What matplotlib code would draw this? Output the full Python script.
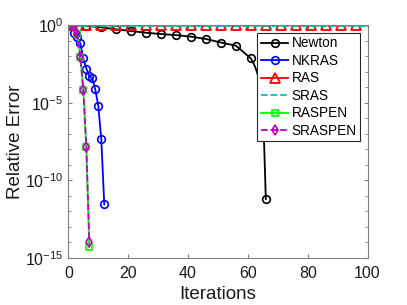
import numpy as np
import matplotlib
matplotlib.use("Agg")
import matplotlib.pyplot as plt
from matplotlib.ticker import FixedLocator, NullFormatter, LogFormatterSciNotation

plt.rcParams['font.family'] = ['Liberation Sans', 'DejaVu Sans']
plt.rcParams['mathtext.fontset'] = 'custom'
plt.rcParams['mathtext.rm'] = 'Liberation Sans'
plt.rcParams['mathtext.it'] = 'Liberation Sans'

# Data (log10 of relative error)
newton_it = [1, 6, 11, 16, 21, 26, 31, 36, 41, 46, 51, 56, 61, 62, 63, 64, 65, 66]
newton_log = [0.0, -0.05, -0.15, -0.28, -0.39, -0.5, -0.58, -0.65, -0.75, -0.9,
              -1.13, -1.33, -2.15, -2.5, -3.0, -3.7, -4.9, -11.2]
newton_marks = [0, 1, 2, 3, 4, 5, 6, 7, 8, 9, 10, 11, 12, 17]

nkras_it = [1, 2, 3, 4, 5, 6, 7, 8, 9, 10, 11, 12]
nkras_log = [0.0, -0.5, -0.8, -1.18, -2.15, -2.8, -3.3, -3.44, -4.15, -5.2, -7.35, -11.55]

ras_it = [1, 6, 11, 16, 21, 26, 31, 36, 41, 46, 51, 56, 61, 66, 71, 76, 81, 86, 91, 96, 100]
ras_log = [-0.02, -0.03, -0.03, -0.03, -0.03, -0.03, -0.03, -0.03, -0.03, -0.03, -0.03,
           -0.03, -0.03, -0.03, -0.03, -0.03, -0.03, -0.03, -0.03, -0.03, -0.03]

sras_it = [1, 100]
sras_log = [-0.06, -0.06]

raspen_it = [1, 2, 3, 4, 5, 6, 7]
raspen_log = [0.0, -0.05, -0.6, -2.05, -4.2, -7.85, -14.3]

sraspen_it = [1, 2, 3, 4, 5, 6, 7]
sraspen_log = [0.0, -0.05, -0.58, -2.05, -4.2, -7.85, -14.0]

fig = plt.figure(figsize=(4.07, 3.05), dpi=100)
ax = fig.add_axes([0.168, 0.154, 0.735, 0.764])

lw = 1.3
ms = 5.5
ax.semilogy(newton_it, 10.0 ** np.array(newton_log), '-o', color='k', lw=lw, ms=ms,
            mfc='none', mew=1.2, markevery=newton_marks, label='Newton')
ax.semilogy(nkras_it, 10.0 ** np.array(nkras_log), '-o', color='b', lw=lw, ms=ms,
            mfc='none', mew=1.2, label='NKRAS')
ax.semilogy(ras_it, 10.0 ** np.array(ras_log), '-^', color='r', lw=lw, ms=6.5,
            mfc='none', mew=1.3, markevery=list(range(len(ras_it) - 1)), label='RAS')
ax.semilogy(sras_it, 10.0 ** np.array(sras_log), '--', color='c', lw=lw, label='SRAS')
ax.semilogy(raspen_it, 10.0 ** np.array(raspen_log), '-s', color=(0, 1, 0), lw=lw, ms=5,
            mfc='none', mew=1.2, label='RASPEN')
ax.semilogy(sraspen_it, 10.0 ** np.array(sraspen_log), '--d', color='m', lw=lw, ms=ms,
            mfc='none', mew=1.2, label='SRASPEN')

ax.set_xlim(0, 100)
ax.set_ylim(1e-15, 1e0)
ax.set_xticks([0, 20, 40, 60, 80, 100])
ax.yaxis.set_major_locator(FixedLocator([1e-15, 1e-10, 1e-5, 1e0]))
ax.yaxis.set_major_formatter(LogFormatterSciNotation())
ax.yaxis.set_minor_locator(FixedLocator([10.0 ** k for k in range(-15, 1)]))
ax.yaxis.set_minor_formatter(NullFormatter())

for s in ax.spines.values():
    s.set_color('#808080')
    s.set_linewidth(0.8)
ax.tick_params(which='both', direction='in', top=True, right=True, colors='#808080',
               labelcolor='#1a1a1a', labelsize=11.5)
ax.tick_params(axis='x', pad=6)
ax.tick_params(which='major', length=3)
ax.tick_params(which='minor', length=2)

ax.set_xlabel('Iterations', fontsize=13.5, color='#1a1a1a', labelpad=3)
ax.set_ylabel('Relative Error', fontsize=13.5, color='#1a1a1a', labelpad=1)

leg = ax.legend(loc='upper right', fontsize=9.8, handlelength=2.0, handletextpad=0.25,
                borderpad=0.25, labelspacing=0.26, fancybox=False, framealpha=1,
                edgecolor='#262626', bbox_to_anchor=(0.975, 0.966), borderaxespad=0)
leg.get_frame().set_linewidth(0.8)

fig.savefig('out.png', dpi=100)
